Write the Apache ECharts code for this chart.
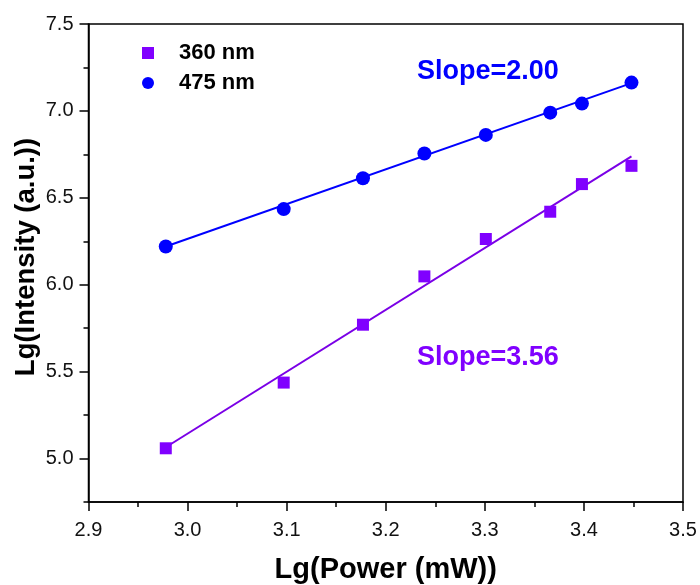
<!DOCTYPE html>
<html>
<head>
<meta charset="utf-8">
<script src="https://cdn.jsdelivr.net/npm/echarts@6/dist/echarts.min.js"></script>
<style>
  html, body { margin: 0; padding: 0; background: #fff; }
  #chart { width: 700px; height: 585px; }
</style>
</head>
<body>
<div id="chart"></div>
<script>
// Lg(Power) for each excitation step
var lgPower = [2.978, 3.097, 3.177, 3.239, 3.301, 3.366, 3.398, 3.448];
// Lg(Intensity) of the two emission bands
var lg360 = [5.059, 5.437, 5.770, 6.048, 6.263, 6.420, 6.579, 6.684];
var lg475 = [6.220, 6.435, 6.613, 6.755, 6.862, 6.990, 7.042, 7.163];
// Linear fits: slope and fitted value at the first power point
var fitSlope = { n360: 3.56, n475: 2.00 };
var fitStart = { n360: 5.065, n475: 6.220 };
var xTicks = [2.9, 3.0, 3.1, 3.2, 3.3, 3.4, 3.5];
var yTicks = [5.0, 5.5, 6.0, 6.5, 7.0, 7.5];
var yMinorTicks = [4.75, 5.25, 5.75, 6.25, 6.75, 7.25];

var PURPLE = '#8000ff';
var BLUE = '#0000ff';
var FONT = 'Liberation Sans, Arial, sans-serif';

function pairs(xs, ys) {
  return xs.map(function (x, i) { return [x, ys[i]]; });
}
function fitLine(slope, start) {
  var x0 = lgPower[0], x1 = lgPower[lgPower.length - 1];
  return [[x0, start], [x1, start + slope * (x1 - x0)]];
}

var chart = echarts.init(document.getElementById('chart'), null, { renderer: 'canvas' });

var tickStyle = { color: '#000', width: 1.5 };
var labelFmt = function (v) { return v.toFixed(1); };

chart.setOption({
  animation: false,
  backgroundColor: '#fff',
  grid: {
    left: 88.5, right: 17, top: 24, bottom: 83,
    outerBoundsMode: 'none', containLabel: false,
    show: true, borderColor: '#000', borderWidth: 1.5, backgroundColor: 'transparent'
  },
  legend: {
    orient: 'vertical',
    left: 137, top: 37,
    itemWidth: 12, itemHeight: 12, itemGap: 8,
    data: [
      { name: '360 nm', icon: 'rect' },
      { name: '475 nm', icon: 'circle' }
    ],
    textStyle: { fontFamily: FONT, fontWeight: 'bold', fontSize: 22, color: '#000', padding: [0, 0, 0, 20] }
  },
  xAxis: {
    type: 'value', min: 2.9, max: 3.5, interval: 0.1,
    name: 'Lg(Power (mW))', nameLocation: 'middle', nameGap: 53, nameMoveOverlap: false,
    nameTextStyle: { fontFamily: FONT, fontWeight: 'bold', fontSize: 29, color: '#000' },
    axisLine: { show: true, onZero: false, lineStyle: tickStyle },
    axisTick: { show: true, inside: false, length: 9, lineStyle: tickStyle },
    minorTick: { show: true, splitNumber: 2, length: 5, lineStyle: tickStyle },
    splitLine: { show: false },
    axisLabel: {
      margin: 18, fontFamily: FONT, fontSize: 20, color: '#111',
      formatter: labelFmt, customValues: xTicks
    }
  },
  yAxis: [
    {
      type: 'value', min: 4.75, max: 7.5,
      name: 'Lg(Intensity (a.u.))', nameLocation: 'middle', nameGap: 48, nameMoveOverlap: false,
      nameTextStyle: { fontFamily: FONT, fontWeight: 'bold', fontSize: 27.5, color: '#000', padding: [0, 0, 0, 12] },
      axisLine: { show: true, onZero: false, lineStyle: tickStyle },
      axisTick: { show: true, inside: false, length: 9, lineStyle: tickStyle, customValues: yTicks },
      splitLine: { show: false },
      axisLabel: {
        margin: 15, fontFamily: FONT, fontSize: 20, color: '#111',
        formatter: labelFmt, customValues: yTicks
      }
    },
    {
      // minor ticks between the labelled values
      type: 'value', min: 4.75, max: 7.5, position: 'left',
      axisLine: { show: false },
      axisTick: { show: true, inside: false, length: 5, lineStyle: tickStyle, customValues: yMinorTicks },
      axisLabel: { show: false },
      splitLine: { show: false }
    }
  ],
  graphic: [
    { type: 'text', left: 417, top: 58,
      style: { text: 'Slope=2.00', fill: BLUE, font: 'bold 27px ' + FONT } },
    { type: 'text', left: 417, top: 344,
      style: { text: 'Slope=3.56', fill: PURPLE, font: 'bold 27px ' + FONT } }
  ],
  series: [
    {
      name: '360 nm fit', type: 'line', data: fitLine(fitSlope.n360, fitStart.n360),
      showSymbol: false, lineStyle: { color: '#7a00e6', width: 2 }, z: 2, silent: true
    },
    {
      name: '475 nm fit', type: 'line', data: fitLine(fitSlope.n475, fitStart.n475),
      showSymbol: false, lineStyle: { color: BLUE, width: 2 }, z: 2, silent: true
    },
    {
      name: '360 nm', type: 'scatter', data: pairs(lgPower, lg360),
      symbol: 'rect', symbolSize: 12, itemStyle: { color: PURPLE, opacity: 1 }, z: 3
    },
    {
      name: '475 nm', type: 'scatter', data: pairs(lgPower, lg475),
      symbol: 'circle', symbolSize: 14, itemStyle: { color: BLUE, opacity: 1 }, z: 3
    }
  ]
});
</script>
</body>
</html>
